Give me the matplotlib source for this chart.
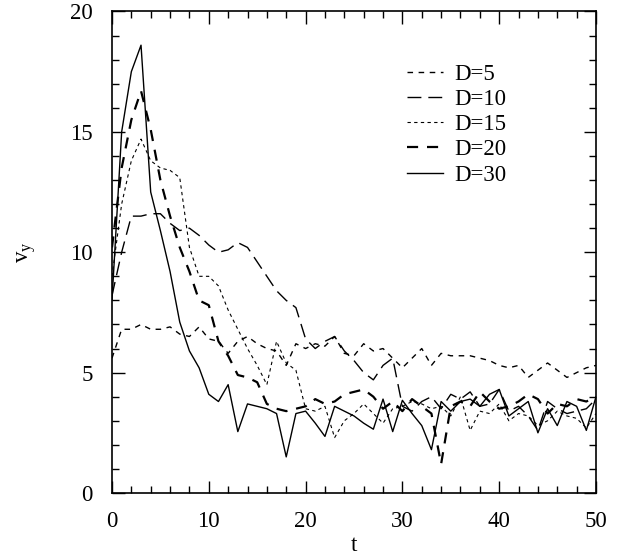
import numpy as np
import matplotlib
matplotlib.use('Agg')
import matplotlib.pyplot as plt
from matplotlib.ticker import MultipleLocator

plt.rcParams['font.family'] = ['Liberation Serif', 'DejaVu Serif']
plt.rcParams['mathtext.fontset'] = 'custom'
plt.rcParams['mathtext.rm'] = 'Liberation Serif'

t = np.arange(0, 51)

v_d5 = [5.6, 6.8, 6.8, 7.0, 6.8, 6.8, 6.9, 6.6, 6.5, 6.9, 6.4, 6.3, 5.8, 6.3, 6.5,
        6.2, 6.0, 5.9, 5.3, 6.2, 6.0, 6.2, 6.1, 6.5, 5.8, 5.7, 6.2, 5.9, 6.0, 5.6,
        5.2, 5.6, 6.0, 5.3, 5.8, 5.7, 5.7, 5.7, 5.6, 5.5, 5.3, 5.2, 5.3, 4.8, 5.1,
        5.4, 5.1, 4.8, 5.0, 5.2, 5.3]
v_d10 = [8.2, 10.0, 11.5, 11.5, 11.6, 11.6, 11.2, 10.9, 11.0, 10.7, 10.3, 10.0, 10.1,
         10.4, 10.2, 9.6, 9.0, 8.4, 8.0, 7.7, 6.4, 6.0, 6.3, 6.5, 5.9, 5.5, 5.0, 4.7,
         5.3, 5.6, 3.6, 3.4, 3.8, 4.0, 3.5, 4.1, 3.9, 4.2, 3.6, 3.7, 4.3, 3.4, 3.6,
         3.2, 2.6, 3.8, 3.5, 3.3, 3.4, 3.5, 3.9]
v_d15 = [9.0, 12.0, 13.8, 14.7, 13.8, 13.5, 13.4, 13.1, 10.2, 9.0, 9.0, 8.6, 7.6, 6.8,
         6.0, 5.3, 4.5, 6.3, 5.4, 5.1, 3.5, 3.4, 3.6, 2.3, 3.0, 3.3, 3.7, 3.3, 2.9,
         3.5, 3.6, 3.8, 3.7, 3.5, 3.6, 3.2, 4.0, 2.6, 3.4, 3.3, 3.7, 3.0, 3.3, 3.2,
         2.8, 3.0, 3.4, 3.2, 3.1, 2.7, 3.3]
v_d20 = [10.2, 13.5, 15.5, 16.7, 15.1, 13.0, 11.5, 10.2, 9.2, 8.0, 7.8, 6.3, 5.7, 4.9,
         4.8, 4.6, 3.7, 3.5, 3.4, 3.5, 3.6, 3.9, 3.7, 3.8, 4.1, 4.2, 4.3, 4.0, 3.5,
         3.8, 3.4, 3.9, 3.6, 3.3, 1.2, 3.6, 3.8, 3.6, 4.2, 3.8, 3.5, 3.6, 3.8, 4.1,
         3.9, 3.3, 3.7, 3.6, 3.9, 3.8, 4.0]
v_d30 = [8.0, 15.0, 17.5, 18.6, 12.5, 10.9, 9.2, 7.1, 5.9, 5.2, 4.1, 3.8, 4.5, 2.55,
         3.7, 3.6, 3.5, 3.3, 1.5, 3.3, 3.4, 2.9, 2.35, 3.6, 3.4, 3.2, 2.9, 2.65, 3.9,
         2.55, 3.85, 3.3, 2.8, 1.8, 3.8, 3.4, 3.8, 3.9, 3.6, 4.1, 4.3, 3.2, 3.5, 3.8,
         2.5, 3.5, 2.8, 3.8, 3.6, 2.6, 4.0]

labels = ['D=5', 'D=10', 'D=15', 'D=20', 'D=30']

fig = plt.figure(figsize=(6.18, 5.57), dpi=100)
ax = fig.add_axes([0.1812, 0.1149, 0.7832, 0.8645])

# line styles: (lw, dash pattern)
styles = [
    (1.0, (0, (4, 4))),
    (1.0, (0, (10, 5))),
    (0.8, (0, (3, 3))),
    (1.6, (0, (5, 4))),
    (1.0, '-'),
]
series = [v_d5, v_d10, v_d15, v_d20, v_d30]
for vals, lab, (lw, ls) in zip(series, labels, styles):
    ax.plot(t, vals, color='black', lw=lw, linestyle=ls, label=lab)

ax.set_xlim(0, 50)
ax.set_ylim(0, 20)
ax.xaxis.set_major_locator(MultipleLocator(10))
ax.xaxis.set_minor_locator(MultipleLocator(2))
ax.yaxis.set_major_locator(MultipleLocator(5))
ax.yaxis.set_minor_locator(MultipleLocator(1))
ax.tick_params(which='both', direction='in', top=True, right=True, labelsize=16.5,
               width=1.0)
ax.tick_params(which='major', length=9)
ax.tick_params(axis='y', which='major', pad=14)
ax.tick_params(axis='x', which='major', pad=13)
ax.tick_params(which='minor', length=5)
for sp in ax.spines.values():
    sp.set_linewidth(1.2)

ax.set_xlabel('t', fontsize=16.5, labelpad=2)
ax.set_ylabel(r'v$_\mathregular{y}$', fontsize=16.5, labelpad=22)

ax.legend(loc='upper left', bbox_to_anchor=(0.567, 0.934), frameon=False,
          fontsize=16.5, handlelength=1.55, handletextpad=0.5, labelspacing=0.18)

fig.savefig('out.png', dpi=100)
